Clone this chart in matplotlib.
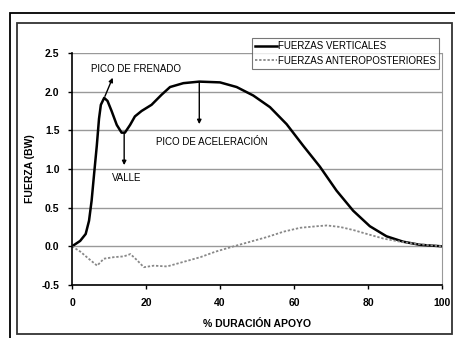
import numpy as np
import matplotlib
matplotlib.use('Agg')
import matplotlib.pyplot as plt
from matplotlib.patches import Rectangle

# % duración del apoyo y fuerzas (BW)
x_vert = [0, 2.2, 3.7, 4.6, 5.3, 6.0, 6.7, 7.3, 7.8, 8.7, 9.6, 10.7, 12.1, 13.4, 14.3,
          15.7, 17.0, 18.8, 21.5, 24.2, 26.5, 30.1, 34.4, 40.0, 44.5, 49.0, 53.5,
          58.0, 62.5, 67.0, 71.5, 76.0, 80.5, 85.0, 89.5, 94.0, 100]
f_vert = [0, 0.07, 0.16, 0.33, 0.59, 0.95, 1.30, 1.65, 1.83, 1.92, 1.88, 1.75, 1.57,
          1.47, 1.47, 1.57, 1.68, 1.75, 1.83, 1.96, 2.06, 2.11, 2.13, 2.12, 2.06,
          1.95, 1.80, 1.58, 1.30, 1.03, 0.72, 0.46, 0.26, 0.13, 0.06, 0.02, 0]

x_ap = [0, 2.3, 4.5, 6.8, 8.6, 11.3, 14.0, 15.8, 17.6, 19.4, 22.1, 25.7, 30.2, 34.7,
        38.7, 43.7, 48.2, 52.7, 57.2, 61.7, 66.2, 68.9, 72.5, 76.1, 79.7, 84.2,
        88.7, 93.2, 100]
f_ap = [0, -0.07, -0.16, -0.25, -0.16, -0.14, -0.13, -0.10, -0.18, -0.27, -0.25, -0.26,
        -0.20, -0.14, -0.07, 0.0, 0.06, 0.12, 0.19, 0.24, 0.26, 0.27, 0.25, 0.21,
        0.16, 0.10, 0.06, 0.03, 0]

plt.rcParams['font.family'] = ['Liberation Sans', 'DejaVu Sans']

W, H = 455, 338
fig = plt.figure(figsize=(W / 100, H / 100), dpi=100)

# marcos exteriores (coordenadas en píxeles)
def px_rect(x0, y0, x1, y1, **kw):
    fig.patches.append(Rectangle((x0 / W, 1 - y1 / H), (x1 - x0) / W, (y1 - y0) / H,
                                 transform=fig.transFigure, fill=False, **kw))

px_rect(10, 13, 470, 350, lw=1.3, edgecolor='black')
px_rect(17, 23, 452, 334, lw=1.3, edgecolor='#333333')

ax = fig.add_axes([72 / W, 1 - 285 / H, (442 - 72) / W, (285 - 53) / H])

ax.plot(x_vert, f_vert, color='black', lw=1.8, solid_joinstyle='round',
        label='FUERZAS VERTICALES')
ax.plot(x_ap, f_ap, color='#888888', lw=1.3, ls=(0, (1.3, 1.0)),
        label='FUERZAS ANTEROPOSTERIORES')

ax.set_xlim(0, 100)
ax.set_ylim(-0.5, 2.5)
ax.set_xticks(np.arange(0, 101, 20))
ax.set_yticks(np.arange(-0.5, 2.51, 0.5))
ax.set_yticklabels([f'{v:.1f}' for v in np.arange(-0.5, 2.51, 0.5)])
ax.grid(axis='y', color='#999999', lw=1)
ax.set_axisbelow(True)
for lab in ax.get_xticklabels() + ax.get_yticklabels():
    lab.set_fontweight('bold')
ax.tick_params(labelsize=7.5, length=3, width=1, direction='out', pad=6)
ax.spines['top'].set_visible(False)
ax.spines['right'].set_color('#999999')
ax.spines['left'].set_linewidth(1.2)
ax.spines['bottom'].set_linewidth(1.2)

ax.set_xlabel('% DURACIÓN APOYO', fontsize=7.5, fontweight='bold', labelpad=8)
ax.set_ylabel('FUERZA (BW)', fontsize=7.5, fontweight='bold', labelpad=5)

arr = dict(arrowstyle='-|>', color='black', lw=1, mutation_scale=6, shrinkA=0, shrinkB=0)
ax.annotate('', xy=(11.0, 2.18), xytext=(8.9, 1.94), arrowprops=arr)
ax.text(17.3, 2.29, 'PICO DE FRENADO', fontsize=7, ha='center', va='center')
ax.annotate('', xy=(14.1, 1.05), xytext=(14.1, 1.47), arrowprops=arr)
ax.text(14.9, 0.88, 'VALLE', fontsize=7, ha='center', va='center')
ax.annotate('', xy=(34.4, 1.58), xytext=(34.4, 2.13), arrowprops=arr)
ax.text(37.9, 1.35, 'PICO DE ACELERACIÓN', fontsize=7, ha='center', va='center')

leg = fig.legend(loc='upper left', bbox_to_anchor=(252 / W, 1 - 38 / H), fontsize=7,
                 frameon=True, fancybox=False, handlelength=2.2, handletextpad=0.1,
                 borderpad=0.35, labelspacing=0.45, borderaxespad=0)
leg.get_frame().set_edgecolor('#555555')
leg.get_frame().set_linewidth(0.8)

fig.savefig('out.png', dpi=100)
